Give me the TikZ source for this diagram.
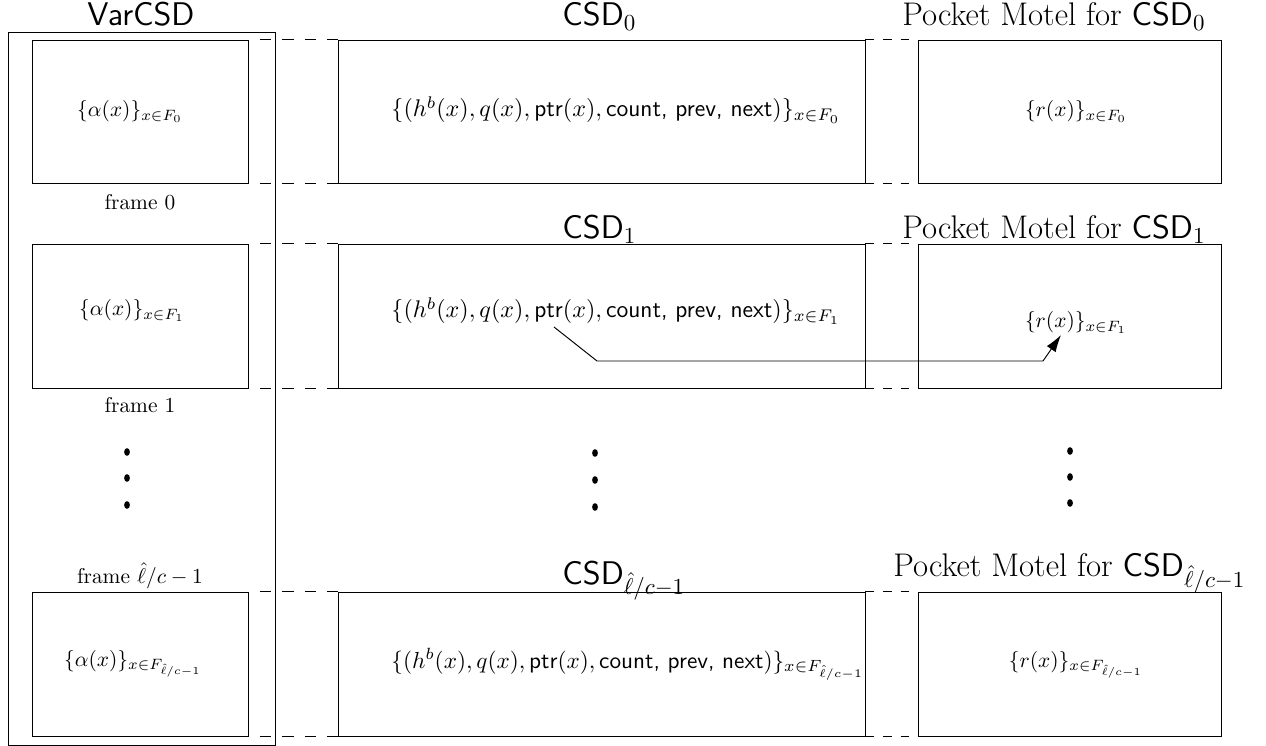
\RequirePackage{fix-cm}
\documentclass[tikz,border=0pt]{standalone}
\usepackage{fontspec}
\usetikzlibrary{fit,arrows.meta}
\begin{document}
\begin{tikzpicture}[x=0.4673pt,y=-0.4673pt,
  line width=0.45pt,
  box/.style={draw, inner sep=0pt, rectangle},
  ttl/.style={font=\fontsize{15.3}{18}\selectfont, inner sep=0pt},
  lbl/.style={inner sep=0pt},
  midtxt/.style={inner sep=0pt, font=\fontsize{11.25}{13}\selectfont},
  dashl/.style={dash pattern=on 5.26pt off 5.26pt, dash phase=5.26pt},
  dashr/.style={dash pattern=on 4.11pt off 4.11pt},
  dotmark/.style={fill=black}
]
\useasboundingbox (0,0) rectangle (1266,746);

% outer VarCSD frame
\node[box, fit={(8,32) (275,745)}] (outer) {};
\node[ttl, anchor=base] (tvar) at (141,26) {\textsf{VarCSD}};

% row 0
\node[box, fit={(32,40) (248,183)}] (a0) {};
\node[box, fit={(338,40) (865,183)}] (m0) {};
\node[box, fit={(918,40) (1221,183)}] (r0) {};
% row 1
\node[box, fit={(32,244) (248,388)}] (a1) {};
\node[box, fit={(338,244) (865,388)}] (m1) {};
\node[box, fit={(918,244) (1221,388)}] (r1) {};
% row 2
\node[box, fit={(32,592) (248,736)}] (a2) {};
\node[box, fit={(338,592) (865,736)}] (m2) {};
\node[box, fit={(918,592) (1221,736)}] (r2) {};

% dashed connectors
\foreach \r in {0,1,2}{
  \draw[dashl] (a\r.north east) -- (m\r.north west);
  \draw[dashl] (a\r.south east) -- (m\r.south west);
  \draw[dashr] (m\r.north east) -- (r\r.north west);
  \draw[dashr] (m\r.south east) -- (r\r.south west);
}

% titles
\node[ttl, anchor=base west] (tc0) at (562,26) {\textsf{CSD}$_0$};
\node[ttl, anchor=base west] (tp0) at (902,26) {Pocket Motel for \textsf{CSD}$_0$};
\node[ttl, anchor=base west] (tc1) at (562,239) {\textsf{CSD}$_1$};
\node[ttl, anchor=base west] (tp1) at (902,239) {Pocket Motel for \textsf{CSD}$_1$};
\node[ttl, anchor=base west] (tc2) at (562,584) {\textsf{CSD}$_{\hat{\ell}/c-1}$};
\node[ttl, anchor=base west] (tp2) at (893,577) {Pocket Motel for \textsf{CSD}$_{\hat{\ell}/c-1}$};

% frame labels
\node[lbl, anchor=base] (f0) at (140,210) {frame 0};
\node[lbl, anchor=base] (f1) at (140,413) {frame 1};
\node[lbl, anchor=base] (f2) at (140,583) {frame $\hat{\ell}/c-1$};

% contents
\node[lbl, anchor=base] (ca0) at (130,117) {$\{\alpha(x)\}_{x\in F_0}$};
\node[lbl, anchor=base] (ca1) at (132,316) {$\{\alpha(x)\}_{x\in F_1}$};
\node[lbl, anchor=base] (ca2) at (133,666) {$\{\alpha(x)\}_{x\in F_{\hat{\ell}/c-1}}$};

\node[midtxt, anchor=base west] (cm0) at (391,117) {$\{(h^b(x), q(x), \textsf{ptr}(x), \textsf{count, prev, next})\}_{x\in F_0}$};
\node[midtxt, anchor=base west] (cm1) at (391,318) {$\{(h^b(x), q(x), \textsf{ptr}(x), \textsf{count, prev, next})\}_{x\in F_1}$};
\node[midtxt, font=\fontsize{10.85}{12.5}\selectfont, anchor=base west] (cm2) at (391,668) {$\{(h^b(x), q(x), \textsf{ptr}(x), \textsf{count, prev, next})\}_{x\in F_{\hat{\ell}/c-1}}$};

\node[lbl, anchor=base] (cr0) at (1076,117) {$\{r(x)\}_{x\in F_0}$};
\node[lbl, anchor=base] (cr1) at (1076,328) {$\{r(x)\}_{x\in F_1}$};
\node[lbl, anchor=base] (cr2) at (1076,667) {$\{r(x)\}_{x\in F_{\hat{\ell}/c-1}}$};

% pointer arrow
\coordinate (ptrstart) at (554,327);
\coordinate (ptrend) at (1061,335);
\draw[-{Latex[length=8pt,width=5pt]}] (ptrstart) -- (597,361) -- (1043,361) -- (ptrend);

% vertical dots
\foreach \x/\y in {127/452,127/478,127/505,595/453,595/480,595/507,1070/451,1070/477,1070/503}{
  \fill[dotmark] (\x,\y) ellipse [x radius=1.35pt, y radius=1.8pt];
}
\end{tikzpicture}
\end{document}
